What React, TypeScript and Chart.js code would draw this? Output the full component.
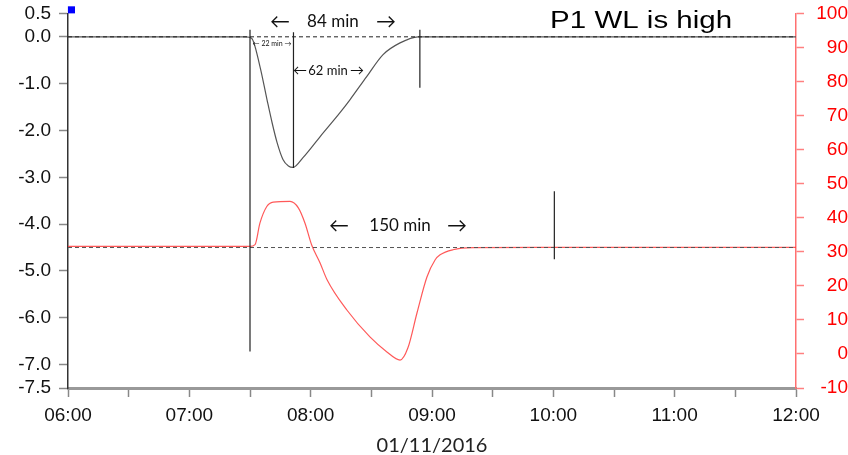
import React, { useEffect, useRef } from 'react';
import { Chart, registerables } from 'chart.js';

Chart.register(...registerables);

// x values are minutes after 06:00 on 01/11/2016
const xTickValues = [0, 30, 60, 90, 120, 150, 180, 210, 240, 270, 300, 330, 360];
const xTickLabels = ['06:00', '07:00', '08:00', '09:00', '10:00', '11:00', '12:00'];
const xTitle = '01/11/2016';

const leftTicks = [0.5, 0, -1, -2, -3, -4, -5, -6, -7, -7.5];

// Water level change (left axis)
const wlTime = [0, 30, 60, 88, 90.8, 94.9, 98.4, 100.9, 103.4, 106.3, 109, 111.3, 116.2, 124.7, 134.5, 139.5, 147.7, 155.8, 164.2, 173.1, 180, 240, 300, 360];
const wlValue = [0, 0, 0, 0, -0.03, -0.63, -1.34, -1.83, -2.26, -2.62, -2.76, -2.79, -2.58, -2.13, -1.62, -1.34, -0.85, -0.38, -0.13, 0, 0, 0, 0, 0];

// Red series (right axis)
const flowTime = [0, 60, 90, 92.5, 94.9, 98.3, 101.5, 109.8, 113.9, 117.2, 120.5, 124.6, 128.1, 137.9, 149.3, 157.7, 164.2, 168.1, 172.6, 177.5, 181.5, 184, 190.4, 200.3, 240, 360];
const flowValue = [31.6, 31.6, 31.6, 32.1, 38.4, 43.3, 44.6, 44.8, 42.9, 38.4, 32.0, 26.8, 21.8, 12.9, 5.0, 0.6, -1.8, 1.8, 12.1, 22.6, 27.6, 29.1, 30.6, 31.2, 31.3, 31.3];

// Dashed reference levels (left axis)
const refLevels = [0, -4.5];
const refColors = ['#222', '#555'];

// Vertical marker lines (left axis units)
const markerTime = [90, 111.5, 174, 240.5];
const markerTop = [0.15, 0.1, 0.15, -3.3];
const markerBottom = [-6.72, -2.8, -1.09, -4.75];

// Text notes
const noteText = ['\u2190', '84 min', '\u2192', '\u2190 22 min \u2192', '\u2190', '62 min', '\u2192', '\u2190', '150 min', '\u2192'];
const noteTime = [104.8, 131.0, 157.3, 100.9, 114.7, 128.6, 142.9, 134.0, 164.2, 192.4];
const noteValue = [0.32, 0.32, 0.32, -0.15, -0.72, -0.72, -0.72, -4.03, -4.03, -4.03];
const noteSize = [20, 17, 20, 7, 14, 13, 14, 20, 17, 20];

const titleText = 'P1 WL is high';
const titleTime = 238.4;
const titleValue = 0.19;

const markTime = [1.7];
const markValue = [0.576];

const notesPlugin = {
  id: 'notes',
  afterDatasetsDraw(chart: any) {
    const { ctx, scales } = chart;
    const x = scales.x;
    const y = scales.yL;
    ctx.save();
    ctx.fillStyle = '#111';
    ctx.textAlign = 'center';
    ctx.textBaseline = 'middle';
    noteText.forEach((t, i) => {
      ctx.font = `${noteSize[i]}px Lato, "DejaVu Sans", sans-serif`;
      ctx.fillText(t, x.getPixelForValue(noteTime[i]), y.getPixelForValue(noteValue[i]));
    });
    ctx.font = '23px "Liberation Sans", Arial, sans-serif';
    ctx.textAlign = 'left';
    ctx.textBaseline = 'alphabetic';
    ctx.fillStyle = '#000';
    const px = x.getPixelForValue(titleTime);
    const py = y.getPixelForValue(titleValue);
    const w = ctx.measureText(titleText).width;
    const targetW = x.getPixelForValue(titleTime + 90) - px;
    ctx.translate(px, py);
    ctx.scale(targetW / w, 1);
    ctx.fillText(titleText, 0, 0);
    ctx.restore();
  },
};

const zip = (a: number[], b: number[]) => a.map((v, i) => ({ x: v, y: b[i] }));

const noPad = (s: any) => { s.paddingTop = 0; s.paddingBottom = 0; s.paddingLeft = 0; s.paddingRight = 0; };

export default function App() {
  const ref = useRef<HTMLCanvasElement>(null);
  useEffect(() => {
    if (!ref.current) return;
    const datasets: any[] = [];
    datasets.push({
      data: zip(wlTime, wlValue), yAxisID: 'yL', borderColor: '#555', borderWidth: 1.2,
      pointRadius: 0, cubicInterpolationMode: 'monotone', order: 2,
    });
    datasets.push({
      data: zip(flowTime, flowValue), yAxisID: 'yR', borderColor: 'rgba(255,60,60,0.85)', borderWidth: 1.2,
      pointRadius: 0, cubicInterpolationMode: 'monotone', order: 3,
    });
    refLevels.forEach((lv, i) => {
      datasets.push({
        data: [{ x: 0, y: lv }, { x: 360, y: lv }], yAxisID: 'yL', borderColor: refColors[i], borderWidth: 1,
        borderDash: [4, 3], pointRadius: 0, order: 1,
      });
    });
    markerTime.forEach((t, i) => {
      datasets.push({
        data: [{ x: t, y: markerTop[i] }, { x: t, y: markerBottom[i] }], yAxisID: 'yL', borderColor: '#222',
        borderWidth: 1.2, pointRadius: 0, order: 0, clip: false,
      });
    });
    datasets.push({
      data: zip(markTime, markValue), yAxisID: 'yL', showLine: false, pointStyle: 'rect', pointRadius: 5,
      backgroundColor: '#0000ff', borderWidth: 0, clip: false, order: 0,
    });

    const tickFont = { family: '"Liberation Sans", Arial, sans-serif', size: 19 };
    const chart = new Chart(ref.current, {
      type: 'line',
      data: { datasets },
      plugins: [notesPlugin],
      options: {
        animation: false,
        responsive: true,
        maintainAspectRatio: false,
        layout: { padding: { top: 13.4, left: 0, right: 0, bottom: 0 } },
        plugins: { legend: { display: false }, tooltip: { enabled: false } },
        scales: {
          x: {
            type: 'linear', min: 0, max: 360, position: 'bottom',
            afterBuildTicks: (s: any) => { s.ticks = xTickValues.map((v) => ({ value: v })); },
            afterFit: (s: any) => { noPad(s); s.height = 455 - 388; },
            ticks: {
              autoSkip: false, maxRotation: 0, padding: 7, font: tickFont, color: '#111',
              callback: (v: any) => (Number(v) % 60 === 0 ? xTickLabels[Number(v) / 60] : ''),
            },
            grid: { drawOnChartArea: false, drawTicks: true, tickLength: 9, tickColor: '#888', tickWidth: 1.5 },
            border: { color: '#999', width: 3 },
            title: {
              display: true, text: xTitle, color: '#222', padding: { top: 0, bottom: 0 },
              font: { family: 'Lato, "Open Sans", sans-serif', size: 20, lineHeight: 0.9 },
            },
          },
          yL: {
            type: 'linear', position: 'left', min: -7.5, max: 0.5,
            afterBuildTicks: (s: any) => { s.ticks = leftTicks.map((v) => ({ value: v })); },
            afterFit: (s: any) => { noPad(s); s.width = 68; },
            ticks: {
              padding: 8, font: tickFont, color: '#111',
              callback: (v: any) => { const t = Number(v).toFixed(1); return t === '-0.0' ? '0.0' : t; },
            },
            grid: { drawOnChartArea: false, drawTicks: true, tickLength: 9, tickColor: '#888', tickWidth: 1.5 },
            border: { color: '#333', width: 1.5 },
          },
          yR: {
            type: 'linear', position: 'right', min: -10, max: 100,
            afterFit: (s: any) => { noPad(s); s.width = 52; },
            ticks: { stepSize: 10, padding: 7, crossAlign: 'far', font: tickFont, color: '#ff0000' },
            grid: { drawOnChartArea: false, drawTicks: true, tickLength: 8, tickColor: '#ff8080', tickWidth: 1.5 },
            border: { color: '#ff7070', width: 1.5 },
          },
        },
      } as any,
    });
    return () => chart.destroy();
  }, []);

  return (
    <div style={{ position: 'fixed', left: 0, top: 0, width: 848, height: 455, background: '#fff' }}>
      <canvas ref={ref} />
    </div>
  );
}
